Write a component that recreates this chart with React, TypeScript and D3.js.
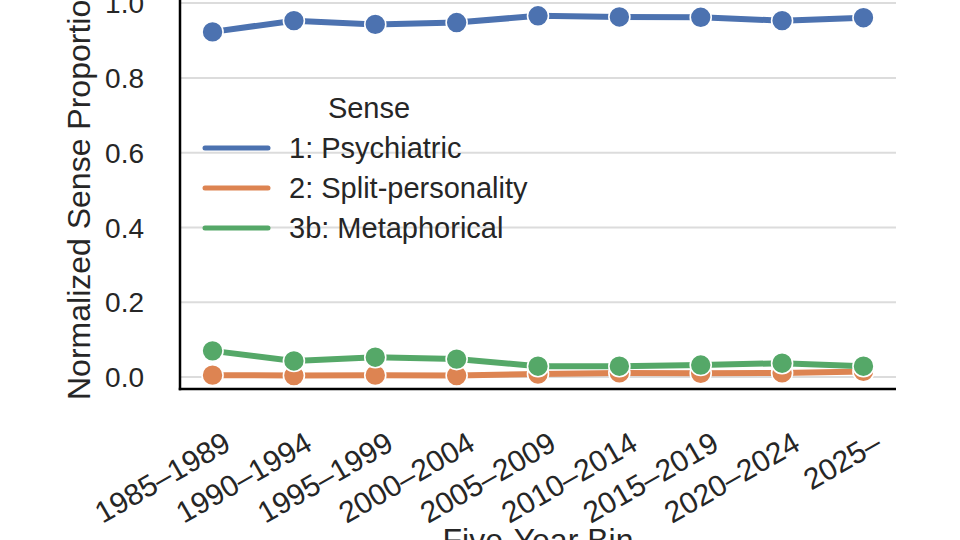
import * as d3 from 'd3';

const WIDTH = 960;
const HEIGHT = 540;

const bins = [
  '1985–1989',
  '1990–1994',
  '1995–1999',
  '2000–2004',
  '2005–2009',
  '2010–2014',
  '2015–2019',
  '2020–2024',
  '2025–',
];

const psychiatric = [0.923, 0.953, 0.943, 0.948, 0.966, 0.963, 0.962, 0.953, 0.961];
const splitPersonality = [0.005, 0.004, 0.005, 0.004, 0.008, 0.011, 0.01, 0.011, 0.015];
const metaphorical = [0.07, 0.043, 0.053, 0.048, 0.029, 0.029, 0.032, 0.037, 0.029];

const senseLabels = ['1: Psychiatric', '2: Split-personality', '3b: Metaphorical'];
const senseColors = ['#4C72B0', '#DD8452', '#55A868'];
const yTicks = [0, 0.2, 0.4, 0.6, 0.8, 1.0];

const FONT = '"Liberation Sans", Arial, sans-serif';
const INK = '#262626';

type Series = { label: string; color: string; values: number[] };

export default function App() {
  const series: Series[] = [psychiatric, splitPersonality, metaphorical].map((values, i) => ({
    label: senseLabels[i],
    color: senseColors[i],
    values,
  }));

  const plot = { left: 180, right: 896, top: -7, bottom: 389 };
  const midY = (plot.top + plot.bottom) / 2;

  // categorical positions with a 5% margin either side
  const x = d3
    .scaleLinear()
    .domain([-0.4, bins.length - 1 + 0.4])
    .range([plot.left, plot.right]);
  const y = d3.scaleLinear().domain([-0.032, 1.027]).range([plot.bottom, plot.top]);

  const line = d3
    .line<number>()
    .x((_d, i) => x(i))
    .y((d) => y(d));

  const legend = { x: 205, titleY: 118, firstY: 148, step: 40 };

  return (
    <svg
      width={WIDTH}
      height={HEIGHT}
      style={{ position: 'fixed', left: 0, top: 0, background: '#fff' }}
      fontFamily={FONT}
    >
      <rect width={WIDTH} height={HEIGHT} fill="#fff" />

      {/* horizontal grid */}
      {yTicks.map((t) => (
        <line
          key={`g${t}`}
          x1={plot.left}
          x2={plot.right}
          y1={y(t)}
          y2={y(t)}
          stroke="#dcdcdc"
          strokeWidth={2}
        />
      ))}

      {/* legend, frameless so the grid shows through */}
      <text x={369} y={legend.titleY} textAnchor="middle" fontSize={29} fill={INK}>
        Sense
      </text>
      {series.map((s, i) => {
        const ly = legend.firstY + i * legend.step;
        return (
          <g key={s.label}>
            <line
              x1={legend.x}
              x2={legend.x + 63}
              y1={ly}
              y2={ly}
              stroke={s.color}
              strokeWidth={5}
              strokeLinecap="round"
            />
            <text x={289} y={ly + 10} fontSize={29} fill={INK}>
              {s.label}
            </text>
          </g>
        );
      })}

      {/* one line per sense, with white-edged markers */}
      {series.map((s) => (
        <g key={`s${s.label}`}>
          <path d={line(s.values) ?? ''} fill="none" stroke={s.color} strokeWidth={6} />
          {s.values.map((v, i) => (
            <circle
              key={i}
              cx={x(i)}
              cy={y(v)}
              r={10.5}
              fill={s.color}
              stroke="#fff"
              strokeWidth={1.6}
            />
          ))}
        </g>
      ))}

      {/* left and bottom spines only */}
      <line x1={plot.left} x2={plot.left} y1={plot.top} y2={plot.bottom + 1.25} stroke="#000" strokeWidth={2.5} />
      <line x1={plot.left - 1.25} x2={plot.right} y1={plot.bottom} y2={plot.bottom} stroke="#000" strokeWidth={2.5} />

      {yTicks.map((t) => (
        <text
          key={`y${t}`}
          x={144}
          y={y(t)}
          dy="0.36em"
          textAnchor="end"
          fontSize={28}
          fill={INK}
        >
          {t.toFixed(1)}
        </text>
      ))}

      {bins.map((b, i) => {
        const ax = x(i) + 20;
        const ay = 449;
        return (
          <text
            key={b}
            x={ax}
            y={ay}
            textAnchor="end"
            fontSize={30}
            fill={INK}
            transform={`rotate(-30 ${ax} ${ay})`}
          >
            {b}
          </text>
        );
      })}

      <text
        x={90}
        y={midY}
        textAnchor="middle"
        fontSize={32}
        fill={INK}
        transform={`rotate(-90 90 ${midY})`}
      >
        Normalized Sense Proportion
      </text>
      <text x={(plot.left + plot.right) / 2} y={551} textAnchor="middle" fontSize={32} fill={INK}>
        Five-Year Bin
      </text>
    </svg>
  );
}
